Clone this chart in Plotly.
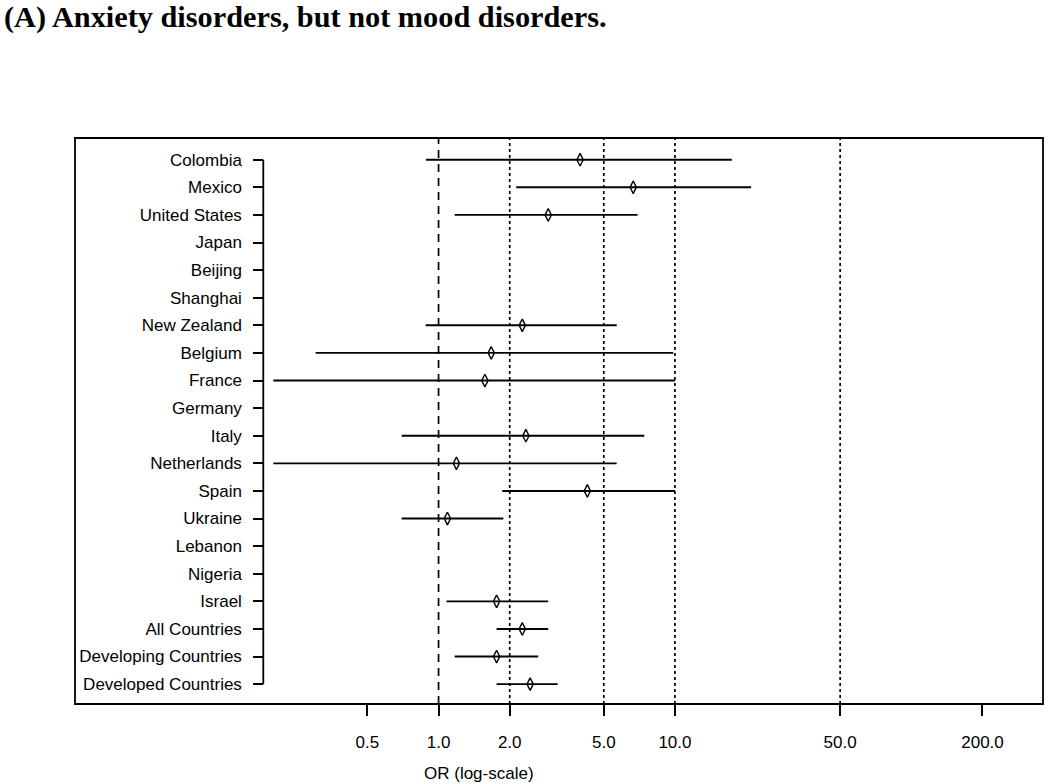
import plotly.graph_objects as go

countries = ["Colombia", "Mexico", "United States", "Japan", "Beijing", "Shanghai",
             "New Zealand", "Belgium", "France", "Germany", "Italy", "Netherlands",
             "Spain", "Ukraine", "Lebanon", "Nigeria", "Israel", "All Countries",
             "Developing Countries", "Developed Countries"]
odds_ratio = [3.97, 6.66, 2.91, None, None, None, 2.26, 1.67, 1.57, None, 2.34, 1.19,
              4.26, 1.09, None, None, 1.76, 2.26, 1.76, 2.44]
ci_lower = [0.885, 2.13, 1.17, None, None, None, 0.882, 0.302, 0.200, None, 0.698, 0.200,
            1.86, 0.698, None, None, 1.08, 1.76, 1.17, 1.76]
ci_upper = [17.4, 21.0, 6.95, None, None, None, 5.67, 9.83, 10.0, None, 7.42, 5.67,
            10.0, 1.88, None, None, 2.91, 2.91, 2.64, 3.19]
x_tick_values = [0.5, 1, 2, 5, 10, 50, 200]
x_tick_labels = ["0.5", "1.0", "2.0", "5.0", "10.0", "50.0", "200.0"]
dotted_refs = [2, 5, 10, 50]
dashed_ref = 1

rows = list(range(1, len(countries) + 1))

# CI segments
seg_x, seg_y = [], []
for r, lo, hi in zip(rows, ci_lower, ci_upper):
    if lo is None:
        continue
    seg_x += [lo, hi, None]
    seg_y += [r, r, None]

pt_x = [v for v in odds_ratio if v is not None]
pt_y = [r for r, v in zip(rows, odds_ratio) if v is not None]

fig = go.Figure()
fig.add_trace(go.Scatter(x=seg_x, y=seg_y, mode="lines",
                         line=dict(color="black", width=1.9),
                         hoverinfo="skip", showlegend=False))
fig.add_trace(go.Scatter(x=pt_x, y=pt_y, mode="markers",
                         marker=dict(symbol="diamond-tall-open", size=9,
                                     color="black", line=dict(width=1.4, color="black")),
                         showlegend=False))

font_main = "Liberation Sans, Arial, sans-serif"

# reference lines
fig.add_shape(type="line", xref="x", yref="paper", x0=dashed_ref, x1=dashed_ref,
              y0=0, y1=1, line=dict(color="black", width=1.7, dash="8px,6px"), layer="below")
for v in dotted_refs:
    fig.add_shape(type="line", xref="x", yref="paper", x0=v, x1=v, y0=0, y1=1,
                  line=dict(color="black", width=1.7, dash="3px,3px"), layer="below")

# box
fig.add_shape(type="rect", xref="paper", yref="paper", x0=0, x1=1, y0=0, y1=1,
              line=dict(color="black", width=1.8))

yaxis_pos = 0.1945
# bracket line for y axis spanning first to last row
fig.add_shape(type="line", xref="paper", yref="y", x0=yaxis_pos, x1=yaxis_pos,
              y0=rows[0], y1=rows[-1], line=dict(color="black", width=1.8))

fig.update_layout(
    width=1050, height=784,
    margin=dict(l=75, r=7, t=138, b=80),
    paper_bgcolor="white", plot_bgcolor="white",
    font=dict(family=font_main, size=17, color="black"),
    xaxis=dict(type="log", range=[-1.538, 2.557], tickvals=x_tick_values,
               ticktext=x_tick_labels, ticks="outside", ticklen=11, tickwidth=1.6,
               tickcolor="black", showgrid=False, zeroline=False, showline=False,
               ticklabelstandoff=12, tickfont=dict(size=17)),
    yaxis=dict(range=[20.72, 0.213], tickvals=rows, ticktext=countries,
               anchor="free", position=yaxis_pos, ticks="outside", ticklen=10,
               tickwidth=1.6, tickcolor="black", showgrid=False, zeroline=False,
               showline=False, ticklabelstandoff=8, tickfont=dict(size=17)),
    annotations=[
        dict(text="<b>(A) Anxiety disorders, but not mood disorders.</b>",
             xref="paper", yref="paper", x=(2 - 75) / 968, y=(704 - 17) / 566,
             xanchor="left", yanchor="middle", showarrow=False,
             font=dict(family="Liberation Serif, Times New Roman, serif", size=30.3, color="black")),
        dict(text="OR (log-scale)", xref="paper", yref="paper",
             x=(479 - 75) / 968, y=-(773 - 704) / 566, xanchor="center", yanchor="middle",
             showarrow=False, font=dict(family=font_main, size=17, color="black")),
    ],
)

fig.write_html("out.html", config={"displayModeBar": False},
               post_script="document.body.style.margin='0';document.body.style.padding='0';")
